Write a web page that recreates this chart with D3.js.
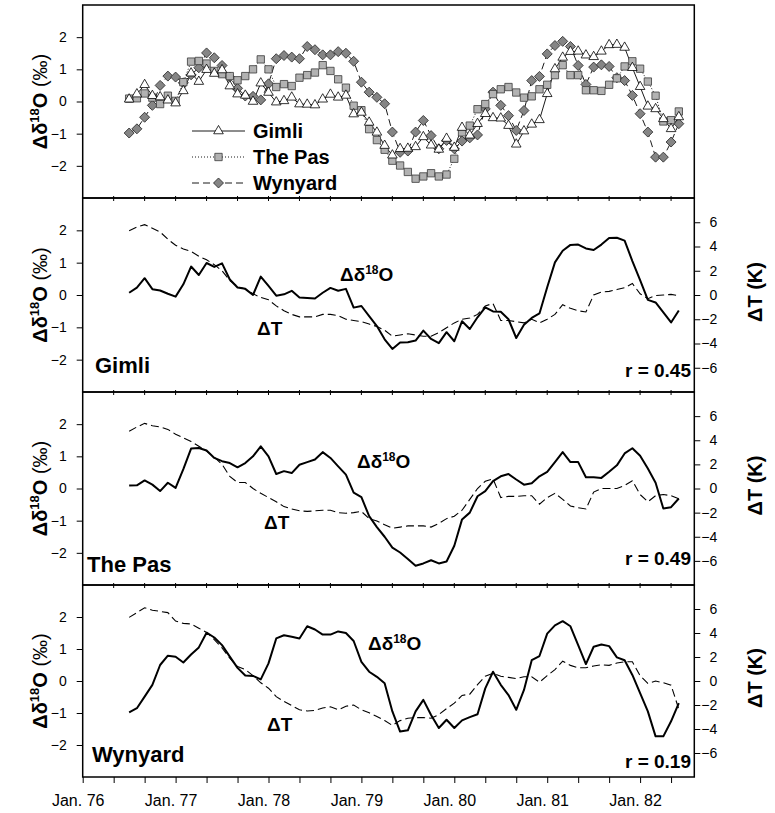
<!DOCTYPE html>
<html>
<head>
<meta charset="utf-8">
<script src="https://cdn.jsdelivr.net/npm/d3@7"></script>
<style>
  body { margin: 0; background: #fff; }
  text { font-family: "Liberation Sans", Arial, Helvetica, sans-serif; fill: #000; }
</style>
</head>
<body>
<div id="chart"></div>
<script>
// months counted from Jan. 1976 (0 = Jan. 76), one value per month
var months = d3.range(6, 78);

var gimliO18 = [0.07, 0.23, 0.52, 0.18, 0.14, 0.04, -0.05, 0.33, 0.88, 0.62, 0.99, 0.87,
  0.98, 0.48, 0.23, 0.19, 0.0, 0.57, 0.28, -0.02, 0.02, 0.13, -0.08, -0.09,
  -0.11, 0.07, 0.22, 0.13, 0.19, -0.39, -0.34, -0.65, -0.96, -1.37, -1.67, -1.47,
  -1.46, -1.41, -1.10, -1.36, -1.49, -1.15, -1.43, -0.81, -1.05, -0.69, -0.38, -0.51,
  -0.52, -0.75, -1.33, -0.92, -0.71, -0.57, 0.24, 1.01, 1.37, 1.55, 1.56, 1.44,
  1.39, 1.56, 1.76, 1.77, 1.68, 1.05, 0.46, -0.15, -0.23, -0.54, -0.85, -0.48];

var thePasO18 = [0.09, 0.10, 0.25, 0.12, -0.08, 0.18, 0.02, 0.60, 1.24, 1.26, 1.18, 0.95,
  0.85, 0.79, 0.66, 0.79, 1.00, 1.31, 1.00, 0.45, 0.54, 0.48, 0.74, 0.82,
  0.90, 1.13, 0.95, 0.69, 0.43, -0.13, -0.27, -0.86, -1.20, -1.50, -1.84, -1.99,
  -2.19, -2.40, -2.33, -2.23, -2.33, -2.27, -1.78, -0.96, -0.75, -0.24, -0.08, 0.23,
  0.38, 0.45, 0.28, 0.12, 0.16, 0.38, 0.52, 0.82, 1.13, 0.82, 0.82, 0.35,
  0.35, 0.33, 0.52, 0.72, 1.09, 1.25, 1.02, 0.62, 0.18, -0.62, -0.58, -0.31];

var wynyardO18 = [-0.98, -0.85, -0.49, -0.12, 0.50, 0.79, 0.76, 0.58, 0.83, 1.05, 1.51, 1.36,
  1.12, 0.76, 0.41, 0.17, 0.16, 0.05, 0.55, 1.33, 1.43, 1.38, 1.33, 1.71,
  1.61, 1.45, 1.45, 1.55, 1.50, 1.25, 0.60, 0.29, 0.13, -0.07, -0.95, -1.58,
  -1.54, -0.95, -0.59, -1.06, -1.47, -1.21, -1.47, -1.23, -1.13, -1.04, -0.23, 0.29,
  -0.12, -0.44, -0.90, -0.28, 0.65, 0.78, 1.48, 1.74, 1.87, 1.71, 1.12, 0.53,
  1.07, 1.14, 1.09, 0.74, 0.65, 0.19, -0.38, -0.95, -1.73, -1.73, -1.26, -0.69];

var gimliT = [5.3, 5.6, 5.8, 5.5, 5.2, 4.6, 4.1, 3.8, 3.6, 3.2, 2.9, 2.5,
  2.0, 1.2, 0.7, 0.5, 0.1, -0.2, -0.4, -0.9, -1.3, -1.6, -1.8, -1.8,
  -1.8, -1.6, -1.6, -1.7, -2.0, -2.1, -2.2, -2.4, -2.6, -2.9, -3.4, -3.3,
  -3.2, -3.3, -3.4, -3.4, -3.1, -2.7, -2.3, -2.0, -1.9, -1.6, -0.9, -0.7,
  -2.1, -2.1, -2.2, -2.3, -2.0, -2.3, -2.0, -1.6, -0.8, -1.1, -1.3, -1.4,
  0.0, 0.25, 0.3, 0.45, 0.6, 0.95, 0.1, -0.3, -0.05, 0.0, 0.05, -0.05];

var thePasT = [4.75, 5.1, 5.4, 5.2, 5.1, 4.9, 4.5, 4.2, 3.9, 3.5, 3.1, 2.6,
  2.0, 1.0, 0.5, 0.5, 0.0, -0.4, -0.75, -1.1, -1.5, -1.7, -1.85, -1.9,
  -1.85, -1.8, -1.8, -2.0, -2.05, -2.0, -1.9, -2.5, -2.7, -3.0, -3.3, -3.2,
  -3.1, -3.1, -3.1, -3.2, -2.9, -2.5, -2.3, -1.8, -0.9, 0.0, 0.6, 0.8,
  -0.75, -0.65, -0.65, -0.6, -0.6, -1.3, -0.75, -0.4, -0.9, -1.45, -1.6, -1.7,
  -0.3, 0.0, 0.0, 0.0, 0.25, 0.65, -0.5, -1.1, -0.6, -0.5, -0.6, -0.85];

var wynyardT = [5.3, 5.7, 6.1, 5.9, 5.8, 5.7, 5.0, 4.8, 4.75, 4.4, 4.05, 3.45,
  2.75, 1.9, 1.2, 0.95, 0.45, -0.15, -0.6, -1.3, -1.7, -2.05, -2.4, -2.5,
  -2.45, -2.25, -2.15, -2.4, -2.1, -2.0, -2.4, -2.65, -2.95, -3.3, -3.7, -3.3,
  -3.1, -3.05, -3.05, -3.1, -2.8, -2.3, -1.85, -1.2, -1.1, -0.3, 0.4, 0.65,
  0.4, 0.3, 0.2, 0.35, 0.35, -0.1, 0.45, 0.95, 1.65, 1.3, 1.1, 1.1,
  1.25, 1.35, 1.3, 1.5, 1.6, 1.6, 0.45, -0.2, 0.0, -0.15, -0.35, -2.35];

var stations = ["Gimli", "The Pas", "Wynyard"];
var correlations = ["r = 0.45", "r = 0.49", "r = 0.19"];
var o18Ticks = [-2, -1, 0, 1, 2];
var tempTicks = [-6, -4, -2, 0, 2, 4, 6];
var monthTicks = d3.range(0, 77, 4);
var yearLabels = ["Jan. 76", "Jan. 77", "Jan. 78", "Jan. 79", "Jan. 80", "Jan. 81", "Jan. 82"];

var W = 775, H = 813;
var panelTop = [5, 198, 392, 585];
var panelBottom = [198, 392, 585, 777];
var left = 82.7, right = 694.3;

var svg = d3.select("#chart").append("svg")
    .attr("width", W)
    .attr("height", H);

var x = d3.scaleLinear().domain([0, 79]).range([left, right]);

function series(values) {
  return values.map(function(v, i) { return {m: months[i], v: v}; });
}

function leftAxis(g, y) {
  g.call(d3.axisLeft(y).tickValues(o18Ticks).tickSize(6).tickPadding(10).tickFormat(d3.format("d")));
  g.select(".domain").remove();
  g.selectAll("line").style("stroke", "#000");
  g.selectAll("text").style("font-size", "14px").style("font-family", "Liberation Sans, Arial, sans-serif");
}

function o18Title(cy) {
  var t = svg.append("text")
      .attr("transform", "translate(47," + cy + ") rotate(-90)")
      .style("text-anchor", "middle")
      .style("font-size", "20px")
      .style("font-weight", "bold");
  t.append("tspan").text("\u0394\u03b4");
  t.append("tspan").attr("dy", -8).style("font-size", "13px").text("18");
  t.append("tspan").attr("dy", 8).text("O ");
  t.append("tspan").style("font-weight", "normal").text("(\u2030)");
}

function o18Label(xp, yp, size) {
  var t = svg.append("text")
      .attr("x", xp).attr("y", yp)
      .style("font-size", size + "px")
      .style("font-weight", "bold");
  t.append("tspan").text("\u0394\u03b4");
  t.append("tspan").attr("dy", -7).style("font-size", "12px").text("18");
  t.append("tspan").attr("dy", 7).text("O");
}

// ---------- top panel: the three stations together ----------
var yTop = d3.scaleLinear().domain([-3, 3]).range([panelBottom[0], panelTop[0]]);

var line0 = d3.line().x(d => x(d.m)).y(d => yTop(d.v));

var topSeries = [
  {name: "Gimli", values: gimliO18, dash: null, symbol: d3.symbolTriangle, size: 40, fill: "#fff", stroke: "#000", rot: 0},
  {name: "The Pas", values: thePasO18, dash: "1,2", symbol: d3.symbolSquare, size: 54, fill: "#b2b2b2", stroke: "#3a3a3a", rot: 0},
  {name: "Wynyard", values: wynyardO18, dash: "7,4", symbol: d3.symbolSquare, size: 50, fill: "#858585", stroke: "#2a2a2a", rot: 45}
];

var topG = svg.append("g").attr("class", "top");

topSeries.slice().reverse().forEach(function(s) {
  topG.append("path")
      .datum(series(s.values))
      .attr("d", line0)
      .style("fill", "none")
      .style("stroke", "#000")
      .style("stroke-width", 0.9)
      .style("stroke-dasharray", s.dash);
});

topSeries.slice().reverse().forEach(function(s, j) {
  topG.selectAll("path.mk" + j)
      .data(series(s.values)).enter()
    .append("path")
      .attr("class", "mk" + j)
      .attr("d", d3.symbol().type(s.symbol).size(s.size))
      .attr("transform", d => "translate(" + x(d.m) + "," + yTop(d.v) + ") rotate(" + s.rot + ")")
      .style("fill", s.fill)
      .style("stroke", s.stroke)
      .style("stroke-width", 0.8);
});

// legend
var legendY = [131, 157, 183];
topSeries.forEach(function(s, i) {
  var g = topG.append("g").attr("transform", "translate(0," + legendY[i] + ")");
  g.append("line")
      .attr("x1", 192).attr("x2", 245)
      .style("stroke", "#000")
      .style("stroke-width", 0.9)
      .style("stroke-dasharray", s.dash);
  g.append("path")
      .attr("d", d3.symbol().type(s.symbol).size(s.size))
      .attr("transform", "translate(218.5,0) rotate(" + s.rot + ")")
      .style("fill", s.fill)
      .style("stroke", s.stroke)
      .style("stroke-width", 0.8);
  g.append("text")
      .attr("x", 253)
      .attr("y", 7)
      .style("font-size", "20px")
      .style("font-weight", "bold")
      .text(s.name);
});

leftAxis(svg.append("g").attr("transform", "translate(" + left + ",0)"), yTop);
o18Title((panelTop[0] + panelBottom[0]) / 2);

// ---------- station panels ----------
var panels = [
  {o18: gimliO18, temp: gimliT, o18Pos: [340, 281], tPos: [257, 335], namePos: [95, 373], rY: 377},
  {o18: thePasO18, temp: thePasT, o18Pos: [357, 468], tPos: [264, 529], namePos: [87, 572], rY: 565},
  {o18: wynyardO18, temp: wynyardT, o18Pos: [368, 650], tPos: [267, 731], namePos: [92, 762], rY: 768}
];

panels.forEach(function(p, i) {
  var k = i + 1;
  var yL = d3.scaleLinear().domain([-3, 3]).range([panelBottom[k], panelTop[k]]);
  var yR = d3.scaleLinear().domain([-8, 8]).range([panelBottom[k], panelTop[k]]);

  svg.append("path")
      .datum(series(p.temp))
      .attr("d", d3.line().x(d => x(d.m)).y(d => yR(d.v)))
      .style("fill", "none")
      .style("stroke", "#000")
      .style("stroke-width", 1.1)
      .style("stroke-dasharray", "8,4");

  svg.append("path")
      .datum(series(p.o18))
      .attr("d", d3.line().x(d => x(d.m)).y(d => yL(d.v)))
      .style("fill", "none")
      .style("stroke", "#000")
      .style("stroke-width", 2)
      .style("stroke-linejoin", "round");

  leftAxis(svg.append("g").attr("transform", "translate(" + left + ",0)"), yL);
  o18Title((panelTop[k] + panelBottom[k]) / 2);

  var ra = svg.append("g").attr("transform", "translate(" + right + ",0)");
  ra.call(d3.axisRight(yR).tickValues(tempTicks).tickSize(6).tickFormat(d3.format("d")));
  ra.select(".domain").remove();
  ra.selectAll("line").style("stroke", "#000");
  ra.selectAll("text")
      .attr("x", 23)
      .style("text-anchor", "end")
      .style("font-size", "14px")
      .style("font-family", "Liberation Sans, Arial, sans-serif");

  svg.append("text")
      .attr("transform", "translate(762," + ((panelTop[k] + panelBottom[k]) / 2 - 3) + ") rotate(-90)")
      .style("text-anchor", "middle")
      .style("font-size", "20px")
      .style("font-weight", "bold")
      .text("\u0394T (K)");

  o18Label(p.o18Pos[0], p.o18Pos[1], 19);

  svg.append("text")
      .attr("x", p.tPos[0]).attr("y", p.tPos[1])
      .style("font-size", "19px")
      .style("font-weight", "bold")
      .text("\u0394T");

  svg.append("text")
      .attr("x", p.namePos[0]).attr("y", p.namePos[1])
      .style("font-size", "22px")
      .style("font-weight", "bold")
      .text(stations[i]);

  svg.append("text")
      .attr("x", 691).attr("y", p.rY)
      .style("text-anchor", "end")
      .style("font-size", "19px")
      .style("font-weight", "bold")
      .text(correlations[i]);
});

// panel frames and the small month ticks on the inner borders
panelTop.forEach(function(t, i) {
  svg.append("rect")
      .attr("x", left).attr("y", t)
      .attr("width", right - left)
      .attr("height", panelBottom[i] - t)
      .style("fill", "none")
      .style("stroke", "#000")
      .style("stroke-width", 1.5);
  if (i > 0) {
    svg.append("g").selectAll("line")
        .data(monthTicks.slice(1)).enter()
      .append("line")
        .attr("x1", d => x(d)).attr("x2", d => x(d))
        .attr("y1", t - 2).attr("y2", t + 3)
        .style("stroke", "#000");
  }
});

// bottom time axis
var xa = svg.append("g").attr("transform", "translate(0," + panelBottom[3] + ")");
xa.call(d3.axisBottom(x).tickValues(monthTicks).tickSize(6)
    .tickFormat(d => d % 12 === 0 ? yearLabels[d / 12] : ""));
xa.select(".domain").remove();
xa.selectAll("line").style("stroke", "#000");
xa.selectAll("text")
    .attr("y", 29)
    .attr("dy", 0)
    .attr("dx", -5)
    .style("font-size", "16px")
    .style("font-family", "Liberation Sans, Arial, sans-serif");
</script>
</body>
</html>
